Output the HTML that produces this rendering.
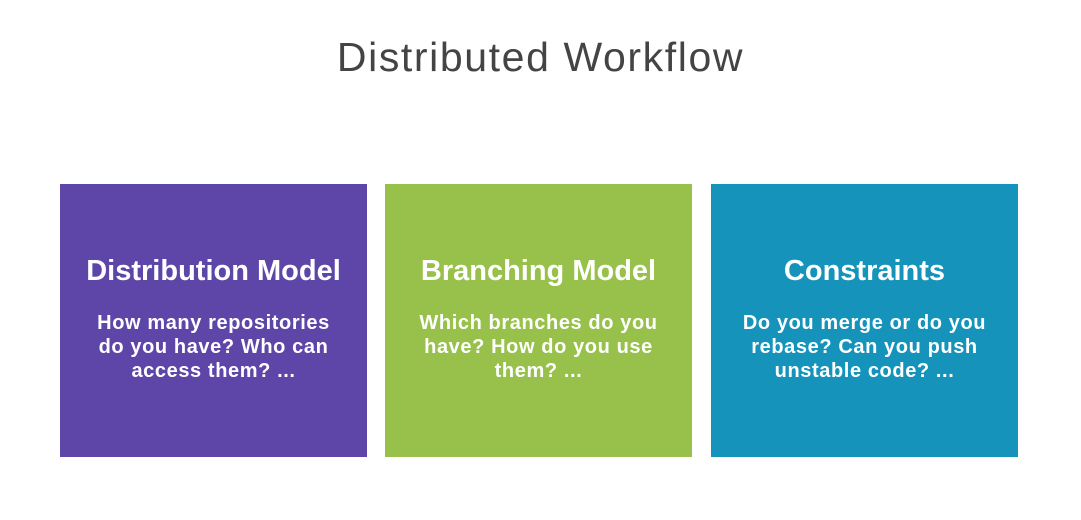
<!DOCTYPE html>
<html><head><meta charset="utf-8"><style>
html,body{margin:0;padding:0;width:1081px;height:520px;background:#fff;overflow:hidden;font-family:"Liberation Sans",sans-serif;}
.t{position:absolute;left:0;width:1081px;top:34px;text-align:center;font-size:41px;color:#444;letter-spacing:1.6px;}
.b{position:absolute;top:184px;height:273px;width:307px;color:#fff;text-align:center;}
.h{position:absolute;top:70px;left:0;width:100%;font-size:29px;font-weight:bold;line-height:34px;}
.p{position:absolute;top:127px;left:0;right:0;font-size:20px;letter-spacing:0.6px;font-weight:bold;line-height:24px;white-space:nowrap;}
</style></head><body>
<div class="t">Distributed Workflow</div>
<div class="b" style="left:60px;background:#5e45a8"><div class="h">Distribution Model</div><div class="p">How many repositories<br>do you have? Who can<br>access them? ...</div></div>
<div class="b" style="left:385px;background:#97c14a"><div class="h">Branching Model</div><div class="p">Which branches do you<br>have? How do you use<br>them? ...</div></div>
<div class="b" style="left:711px;background:#1593bb"><div class="h">Constraints</div><div class="p">Do you merge or do you<br>rebase? Can you push<br>unstable code? ...</div></div>
</body></html>
